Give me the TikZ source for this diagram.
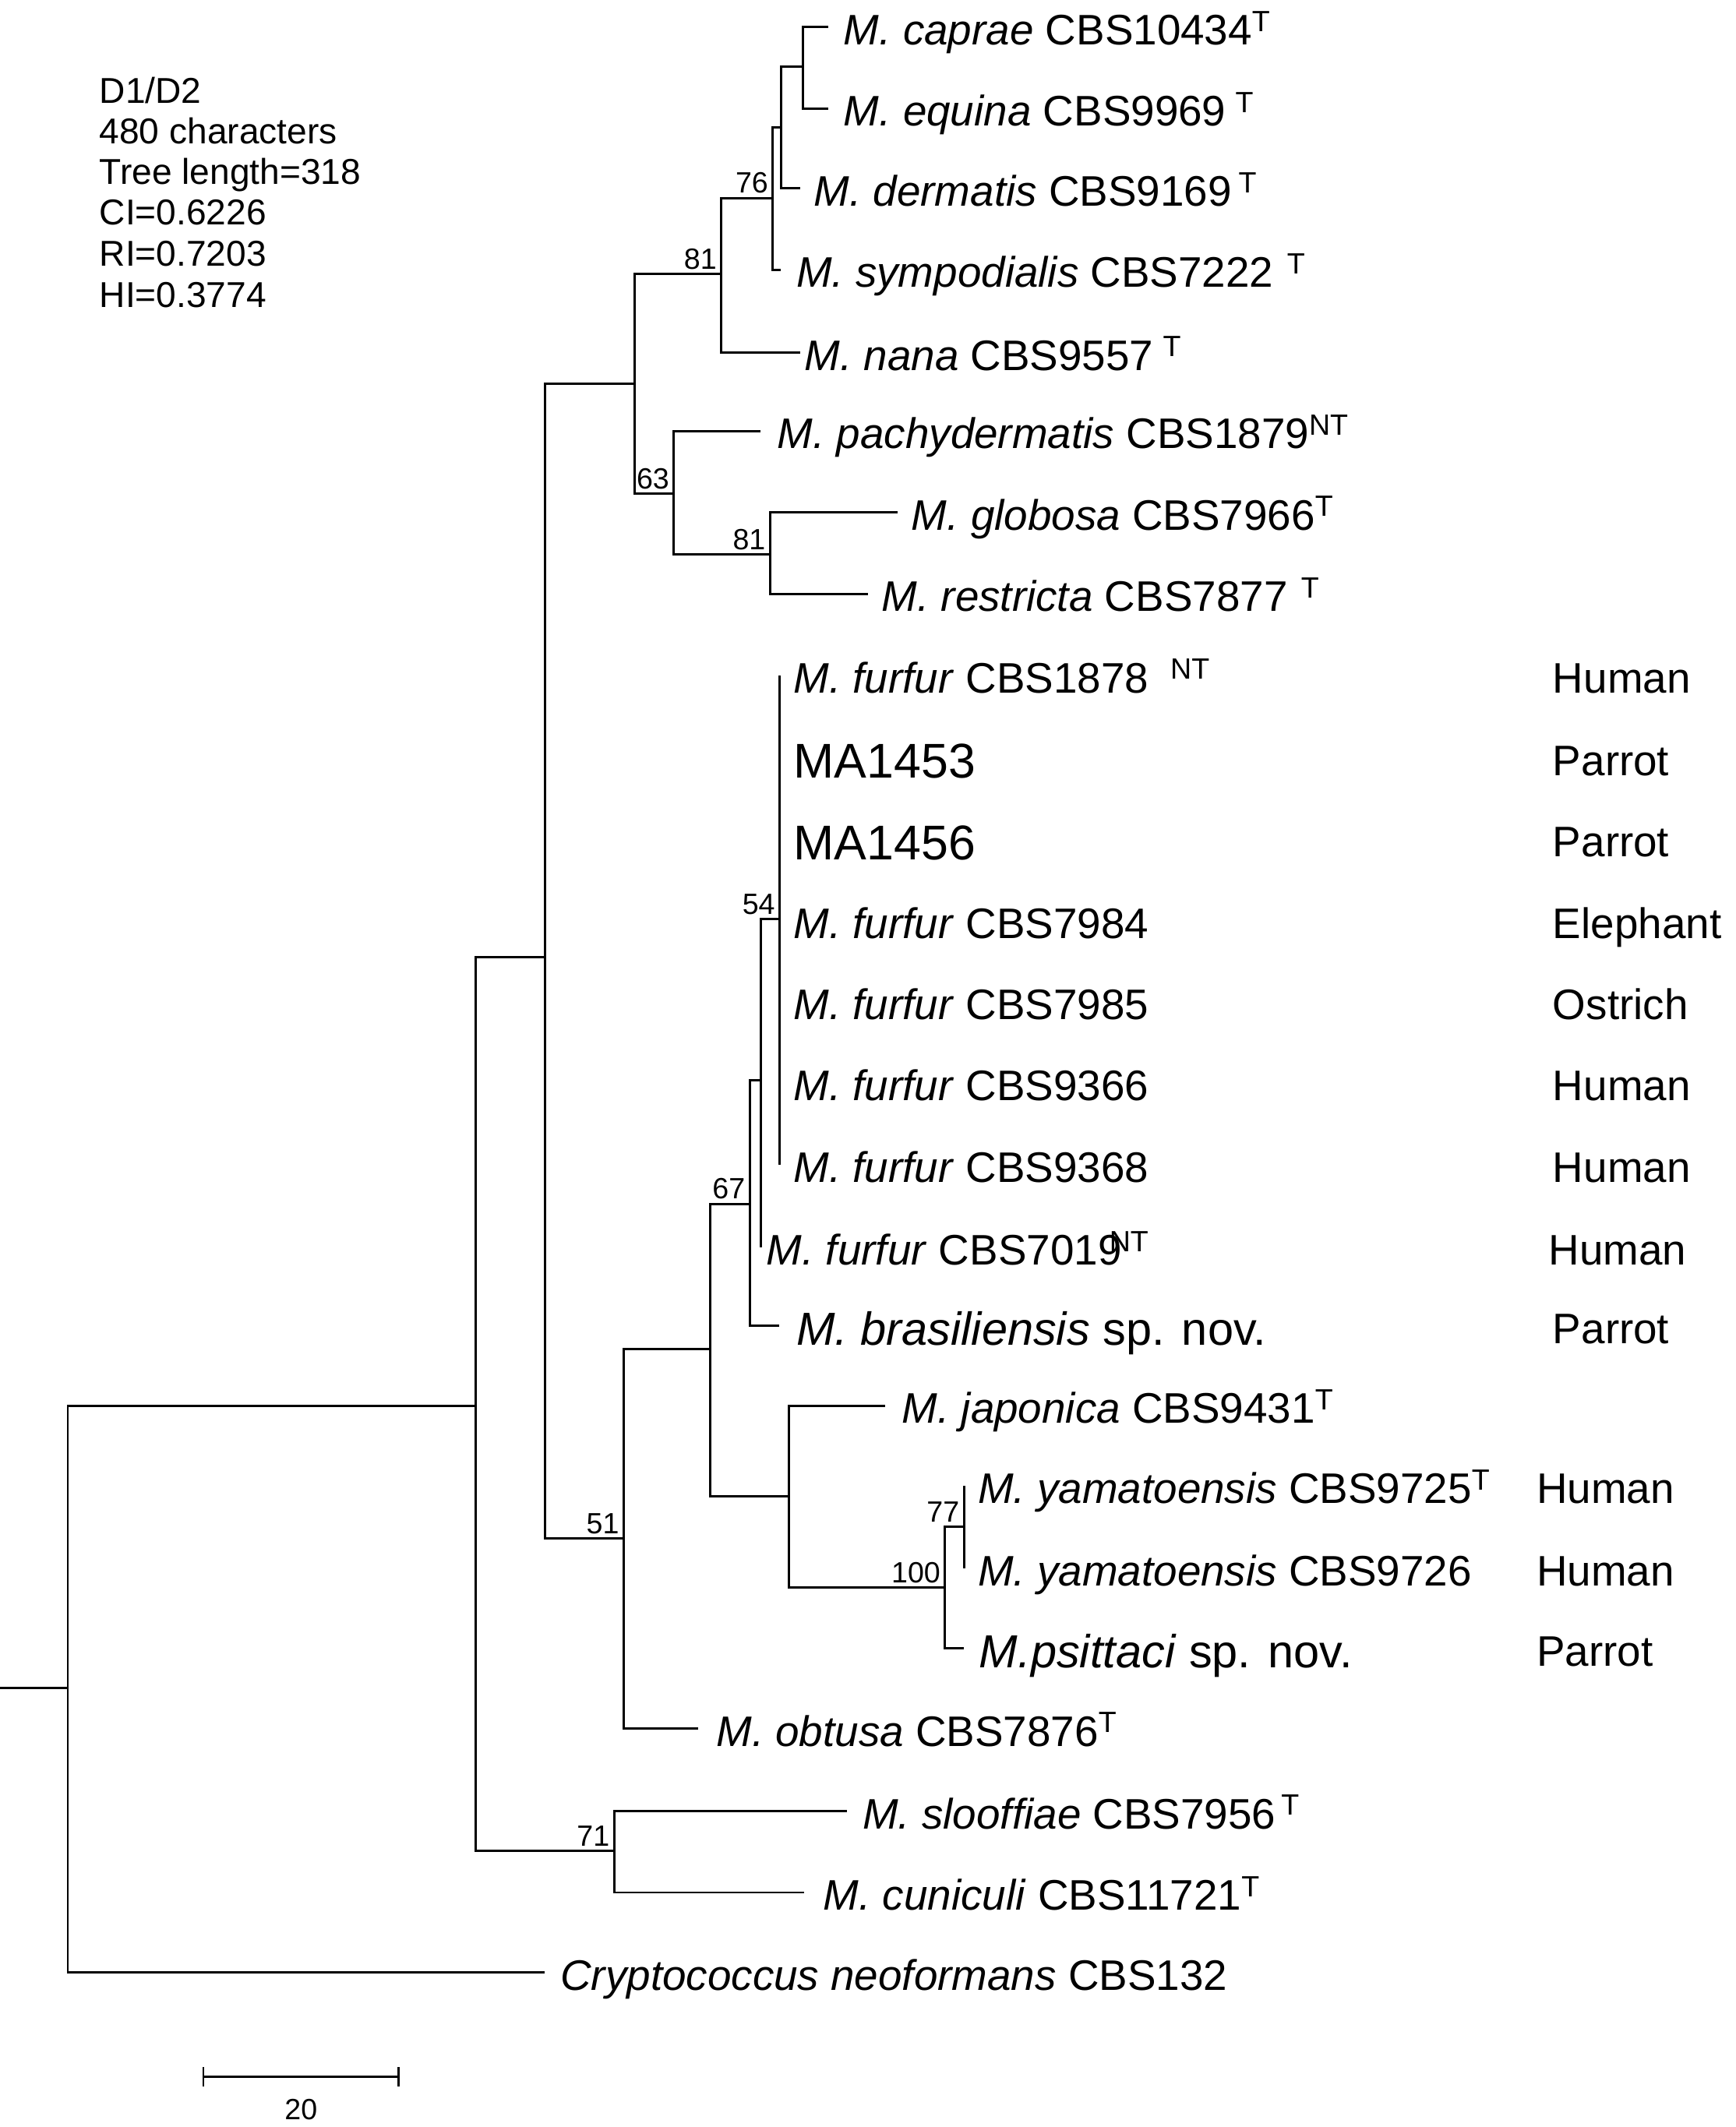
\documentclass[tikz,border=0pt]{standalone}
\usepackage{fontspec}
\setmainfont{Liberation Sans}
\usepackage{tikz}
\newcommand{\taxfont}{\fontsize{15.75}{18}\selectfont}
\newcommand{\bigtaxfont}{\fontsize{17.1}{20}\selectfont}
\newcommand{\mafont}{\fontsize{18}{21}\selectfont}
\newcommand{\smallfont}{\fontsize{10.8}{12}\selectfont}
\newcommand{\infofont}{\fontsize{13.25}{15}\selectfont}
\newcommand{\typesup}[2][0pt]{\hspace{#1}\raisebox{5pt}{\smallfont #2}}

\begin{document}
\begin{tikzpicture}[x=0.5pt,y=-0.5pt,
   branch/.style={draw,line width=0.85pt},
   taxon/.style={anchor=base west,inner sep=0pt,yshift=-1pt,font=\taxfont},
   host/.style={anchor=base west,inner sep=0pt,yshift=-1pt,font=\taxfont},
   boot/.style={anchor=south east,inner sep=1.5pt,font=\smallfont},
   info/.style={anchor=base west,inner sep=0pt,font=\infofont}]
\useasboundingbox (0,0) rectangle (1280,1569);
% internal nodes
\coordinate (rootend) at (0,1245);
\coordinate (root) at (50,1245);
\coordinate (n351) at (351,1037);
\coordinate (n402) at (402,706);
\coordinate (n453) at (453,1365);
\coordinate (n468) at (468,283);
\coordinate (n460) at (460,1135);
\coordinate (n532) at (532,202);
\coordinate (n497) at (497,364);
\coordinate (n570) at (570,146);
\coordinate (n576) at (576,94);
\coordinate (n592) at (592,49);
\coordinate (n568) at (568,409);
\coordinate (n524) at (524,995);
\coordinate (n553) at (553,888);
\coordinate (n582) at (582,1104);
\coordinate (n561) at (561,797);
\coordinate (n575) at (575,678);
\coordinate (n697) at (697,1171);
\coordinate (n711) at (711,1126);
% tips
\coordinate (tcaprae) at (611,20);
\coordinate (tequina) at (611,80);
\coordinate (tdermatis) at (590,139);
\coordinate (tsymp) at (576,199);
\coordinate (tnana) at (590,260);
\coordinate (tpachy) at (561,318);
\coordinate (tglobosa) at (662,378);
\coordinate (trestricta) at (640,438);
\foreach \y/\id in {498/1878,559/1453,619/1456,679/7984,739/7985,799/9366,859/9368}
   \coordinate (t\id) at (575,\y);
\coordinate (t7019) at (561,920);
\coordinate (tbrasil) at (575,978);
\coordinate (tjaponica) at (653,1037);
\coordinate (tyam1) at (711,1096);
\coordinate (tyam2) at (711,1157);
\coordinate (tpsittaci) at (711,1216);
\coordinate (tobtusa) at (515,1275);
\coordinate (tslooffiae) at (625,1336);
\coordinate (tcuniculi) at (593,1396);
\coordinate (tcrypto) at (402,1455);
% branches
\draw[branch] (rootend) -- (root);
\foreach \p/\c in {root/n351,root/tcrypto,n351/n402,n351/n453,n453/tslooffiae,n453/tcuniculi,
   n402/n468,n402/n460,n460/n524,n460/tobtusa,n524/n553,n524/n582,n553/n561,n553/tbrasil,
   n561/n575,n561/t7019,n575/t1878,n575/t1453,n575/t1456,n575/t7984,n575/t7985,n575/t9366,n575/t9368,
   n582/tjaponica,n582/n697,n697/n711,n697/tpsittaci,n711/tyam1,n711/tyam2,
   n468/n532,n468/n497,n532/n570,n532/tnana,n570/n576,n570/tsymp,n576/n592,n576/tdermatis,
   n592/tcaprae,n592/tequina,n497/tpachy,n497/n568,n568/tglobosa,n568/trestricta}
   \draw[branch] (\p) |- (\c);
% bootstrap values
\foreach \n/\b in {n570/76,n532/81,n497/63,n568/81,n575/54,n553/67,n460/51,n697/100,n711/77,n453/71}
   \node[boot] (b\n) at (\n) {\b};
% taxa
\node[taxon] (lcaprae) at (622,31) {\textit{M. caprae} CBS10434\typesup{T}};
\node[taxon] (lequina) at (622,91) {\textit{M. equina} CBS9969\typesup[3.5pt]{T}};
\node[taxon] (ldermatis) at (600,150) {\textit{M. dermatis} CBS9169\typesup[2.5pt]{T}};
\node[taxon] (lsymp) at (587,210) {\textit{M. sympodialis} CBS7222\typesup[5pt]{T}};
\node[taxon] (lnana) at (593,271) {\textit{M. nana} CBS9557\typesup[3.5pt]{T}};
\node[taxon] (lpachy) at (573,329) {\textit{M. pachydermatis} CBS1879\typesup{NT}};
\node[taxon] (lglobosa) at (672,389) {\textit{M. globosa} CBS7966\typesup{T}};
\node[taxon] (lrestricta) at (650,449) {\textit{M. restricta} CBS7877\typesup[5pt]{T}};
\node[taxon] (l1878) at (585,509) {\textit{M. furfur} CBS1878\typesup[8pt]{NT}};
\node[taxon,font=\mafont] (l1453) at (585,572) {MA1453};
\node[taxon,font=\mafont] (l1456) at (585,632) {MA1456};
\foreach \y/\id in {679/7984,739/7985,799/9366,859/9368}
   \node[taxon] (l\id) at (585,\y+11) {\textit{M. furfur} CBS\id};
\node[taxon] (l7019) at (565,931) {\textit{M. furfur} CBS7019\typesup[-4.5pt]{NT}};
\node[taxon,font=\bigtaxfont] (lbrasil) at (587,990) {\textit{M. brasiliensis} sp. nov.};
\node[taxon] (ljaponica) at (665,1048) {\textit{M. japonica} CBS9431\typesup{T}};
\node[taxon] (lyam1) at (721,1107) {\textit{M. yamatoensis} CBS9725\typesup{T}};
\node[taxon] (lyam2) at (721,1168) {\textit{M. yamatoensis} CBS9726};
\node[taxon,font=\bigtaxfont] (lpsittaci) at (722,1228) {\textit{M.psittaci} sp. nov.};
\node[taxon] (lobtusa) at (528,1286) {\textit{M. obtusa} CBS7876\typesup{T}};
\node[taxon] (lslooffiae) at (636,1347) {\textit{M. slooffiae} CBS7956\typesup[2pt]{T}};
\node[taxon] (lcuniculi) at (607,1407) {\textit{M. cuniculi} CBS11721\typesup{T}};
\node[taxon] (lcrypto) at (413,1466) {\textit{Cryptococcus neoformans} CBS132};
% hosts
\foreach \x/\y/\h in {1145/509/Human,1145/570/Parrot,1145/630/Parrot,1145/690/Elephant,
   1145/750/Ostrich,1145/810/Human,1145/870/Human,1142/931/Human,1145/989/Parrot,
   1133/1107/Human,1133/1168/Human,1133/1227/Parrot}
   \node[host] (h\y) at (\x,\y) {\h};
% statistics
\foreach \y/\t in {76/{D1/D2},106/{480 characters},136/{Tree length=318},166/{CI=0.6226},196/{RI=0.7203},227/{HI=0.3774}}
   \node[info] (info\y) at (73,\y) {\t};
% scale bar
\coordinate (sbl) at (150,1532);
\coordinate (sbr) at (294,1532);
\draw[branch] (sbl) -- (sbr);
\draw[branch] ([yshift=3.5pt]sbl) -- ([yshift=-3.5pt]sbl);
\draw[branch] ([yshift=3.5pt]sbr) -- ([yshift=-3.5pt]sbr);
\node[font=\smallfont] (sblab) at (222,1556) {20};
\end{tikzpicture}
\end{document}
